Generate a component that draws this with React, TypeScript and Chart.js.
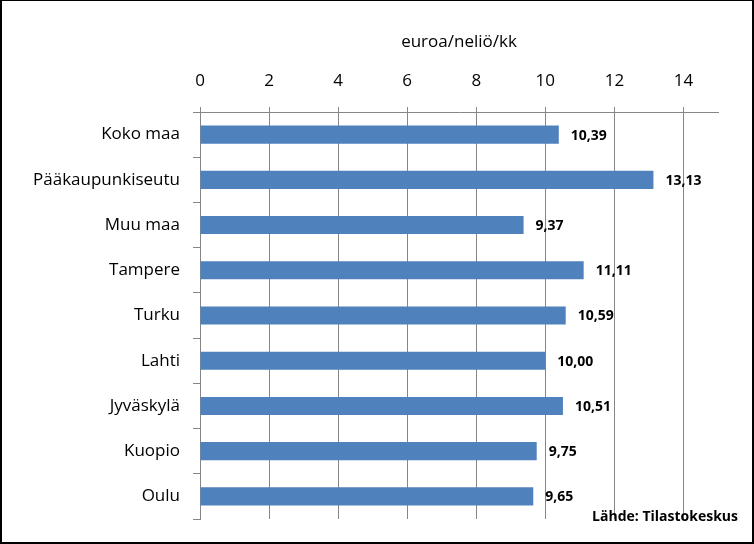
import React, { useEffect, useRef } from "react";
import { Chart, registerables } from "chart.js";

Chart.register(...registerables);

const categories = [
  "Koko maa",
  "Pääkaupunkiseutu",
  "Muu maa",
  "Tampere",
  "Turku",
  "Lahti",
  "Jyväskylä",
  "Kuopio",
  "Oulu",
];
const values = [10.39, 13.13, 9.37, 11.11, 10.59, 10.0, 10.51, 9.75, 9.65];
const valueLabels = ["10,39", "13,13", "9,37", "11,11", "10,59", "10,00", "10,51", "9,75", "9,65"];
const axisTitle = "euroa/neliö/kk";
const sourceText = "Lähde: Tilastokeskus";

const FONT = "'Open Sans', 'Liberation Sans', Arial, sans-serif";
const GRID = "#868686";

const extrasPlugin = {
  id: "extras",
  afterDatasetsDraw(chart: any) {
    const ctx = chart.ctx;
    const meta = chart.getDatasetMeta(0);
    ctx.save();
    ctx.font = `bold 14px ${FONT}`;
    ctx.fillStyle = "#000";
    ctx.textBaseline = "middle";
    ctx.textAlign = "left";
    meta.data.forEach((bar: any, i: number) => {
      ctx.fillText(valueLabels[i], bar.x + 12, bar.y + 1);
    });
    ctx.textAlign = "right";
    ctx.fillText(sourceText, 738, 517);
    ctx.restore();
  },
  afterDraw(chart: any) {
    const ctx = chart.ctx;
    const w = chart.width;
    const h = chart.height;
    ctx.save();
    ctx.fillStyle = "#000";
    ctx.fillRect(0, 0, w, 1);
    ctx.fillRect(0, 0, 2, h);
    ctx.fillRect(w - 2, 0, 2, h);
    ctx.fillRect(0, h - 2, w, 2);
    ctx.restore();
  },
};

export default function App() {
  const ref = useRef<HTMLCanvasElement>(null);
  useEffect(() => {
    document.body.style.margin = "0";
    const chart = new Chart(ref.current!, {
      type: "bar",
      data: {
        labels: categories,
        datasets: [
          {
            data: values,
            backgroundColor: "#4F81BD",
            categoryPercentage: 0.4,
            barPercentage: 1,
          },
        ],
      },
      plugins: [extrasPlugin],
      options: {
        indexAxis: "y",
        animation: false,
        responsive: false,
        maintainAspectRatio: false,
        layout: { padding: { left: 0, right: 36, top: 0, bottom: 25 } },
        plugins: { legend: { display: false }, tooltip: { enabled: false } },
        scales: {
          x: {
            position: "top",
            min: 0,
            max: 15,
            afterBuildTicks: (scale: any) => {
              scale.ticks = scale.ticks.filter((t: any) => t.value <= 14);
            },
            afterFit: (scale: any) => {
              scale.height = 112;
            },
            ticks: {
              stepSize: 2,
              color: "#000",
              font: { family: FONT, size: 17 },
              padding: 16,
            },
            grid: {
              color: GRID,
              lineWidth: 1,
              tickLength: 5,
            },
            border: { color: GRID, width: 1 },
            title: {
              display: true,
              text: axisTitle,
              color: "#000",
              font: { family: FONT, size: 17 },
              padding: { top: 32, bottom: 0 },
            },
          },
          y: {
            afterFit: (scale: any) => {
              scale.width = 200;
            },
            ticks: {
              color: "#000",
              font: { family: FONT, size: 17 },
              padding: 13,
            },
            grid: {
              drawOnChartArea: false,
              drawTicks: true,
              tickLength: 7,
              color: GRID,
              offset: true,
            },
            border: { color: GRID, width: 1 },
          },
        },
      },
    });
    return () => chart.destroy();
  }, []);
  return <canvas ref={ref} width={754} height={544} style={{ display: "block" }} />;
}
